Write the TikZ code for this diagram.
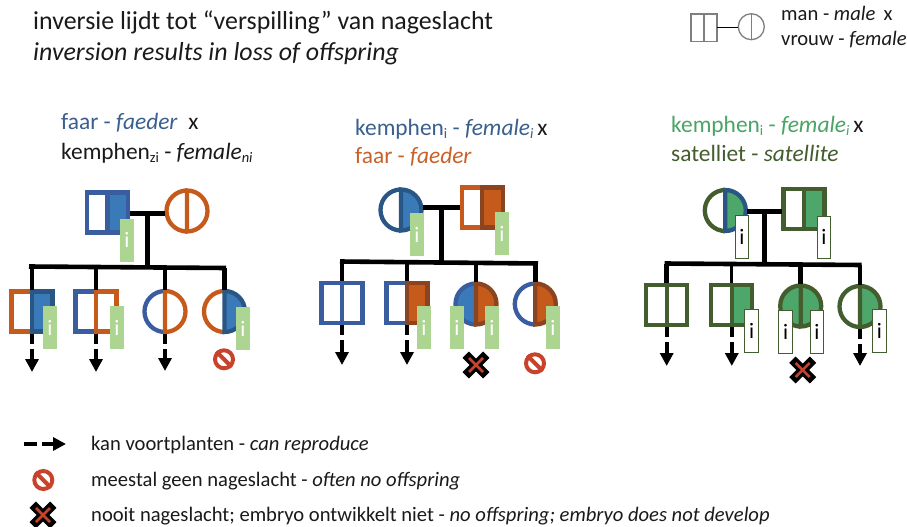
\documentclass[tikz,border=0pt]{standalone}
\usepackage{fontspec}
\setmainfont{Carlito}
\usetikzlibrary{arrows.meta}
\definecolor{blu}{HTML}{3A5DA0}
\definecolor{org}{HTML}{C55A1B}
\definecolor{dblu}{HTML}{2A5685}
\definecolor{fblu}{HTML}{3A7AB8}
\definecolor{brn}{HTML}{8B4420}
\definecolor{dgrn}{HTML}{445D2E}
\definecolor{fgrn}{HTML}{4EA76A}
\definecolor{tgrn}{HTML}{ADD592}
\definecolor{rd}{HTML}{C8432B}
\definecolor{tblu}{HTML}{3A6090}
\definecolor{torg}{HTML}{C8622A}
\definecolor{tgr}{HTML}{4AA564}
\definecolor{gry}{HTML}{7F7F7F}
\definecolor{txt}{HTML}{1A1A1A}
\tikzset{
  pedline/.style={line width=4.3pt,line join=miter},
  bar/.style={line width=4.6pt,black,line cap=butt},
  symnode/.style={inner sep=0pt,outer sep=0pt,minimum width=45pt,minimum height=44pt},
  circnode/.style={circle,inner sep=0pt,outer sep=0pt,minimum size=44pt},
  igreen/.style={fill=tgrn,inner sep=0pt,minimum width=14pt,minimum height=43pt,text=white,font=\fontsize{22}{22}\selectfont},
  iwhite/.style={fill=white,draw=dgrn,line width=1pt,inner sep=0pt,minimum width=13.5pt,minimum height=42.5pt,text=black,font=\fontsize{22}{22}\selectfont},
  darr/.style={line width=4pt,black,dash pattern=on 10pt off 5pt on 12pt off 0pt,-{Triangle[width=13pt,length=13pt]}},
  title/.style={anchor=base west,inner sep=0pt,text=txt,font=\fontsize{25.9}{26}\selectfont},
  head/.style={anchor=base west,inner sep=0pt,text=txt,font=\fontsize{23.4}{24}\selectfont},
  small/.style={anchor=base west,inner sep=0pt,text=txt,font=\fontsize{20.6}{21}\selectfont},
  nosym/.style={circle,draw=rd,fill=white,line width=4pt,inner sep=0pt,minimum size=18pt},
}
% name, x, y, left stroke, right stroke, left fill, right fill
\newcommand\pedsq[7]{%
  \node[symnode] (#1) at (#2,#3) {};
  \fill[#6] (#2-20.5,#3-20) rectangle (#2,#3+20);
  \fill[#7] (#2,#3-20) rectangle (#2+20.5,#3+20);
  \draw[pedline,#4] (#2,#3-20) -- (#2-20.5,#3-20) -- (#2-20.5,#3+20) -- (#2,#3+20);
  \draw[pedline,#5] (#2,#3-20) -- (#2+20.5,#3-20) -- (#2+20.5,#3+20) -- (#2,#3+20) -- cycle;
}
\newcommand\pedci[7]{%
  \node[circnode] (#1) at (#2,#3) {};
  \fill[#6] (#2,#3-20.5) arc[start angle=90,end angle=270,radius=20.5pt] -- cycle;
  \fill[#7] (#2,#3-20.5) arc[start angle=90,end angle=-90,radius=20.5pt] -- cycle;
  \draw[pedline,#4] (#2,#3-20.5) arc[start angle=90,end angle=270,radius=20.5pt];
  \draw[pedline,#5] (#2,#3-20.5) arc[start angle=90,end angle=-90,radius=20.5pt] -- cycle;
}
% name, node, end y
\newcommand\pedarrow[3]{%
  \coordinate (#1) at (#2.south |- 0,#3);
  \draw[darr] (#2.south) -- (#1);
}
\newcommand\crossmark[3]{%
  \node[inner sep=0pt,minimum size=27pt] (#1) at (#2,#3) {};
  \draw[line width=9pt,black] (#2-10.3,#3-10.3) -- (#2+10.3,#3+10.3) (#2-10.3,#3+10.3) -- (#2+10.3,#3-10.3);
  \draw[line width=2.5pt,rd] (#2-7,#3-7) -- (#2+7,#3+7) (#2-7,#3+7) -- (#2+7,#3-7);
}
\newcommand\nomark[3]{%
  \node[nosym] (#1) at (#2,#3) {};
  \draw[line width=4pt,rd] (#1.135) -- (#1.-45);
}
\newcommand\subs[1]{\raisebox{-3pt}{\fontsize{14.5}{15}\selectfont #1}}
\begin{document}
\begin{tikzpicture}[x=1pt,y=-1pt]
\useasboundingbox (0,0) rectangle (907,527);
\fill[white] (0,0) rectangle (907,527);

% titles
\node[title] (t1) at (33,30) {inversie lijdt tot “verspilling” van nageslacht};
\node[title] (t2) at (33,60) {\itshape inversion results in loss of offspring};

% sex legend
\node[inner sep=0pt,outer sep=0pt,minimum width=26pt,minimum height=27.5pt,draw=gry,line width=1.3pt] (ks) at (704,27.7) {};
\draw[gry,line width=1.3pt] (ks.north) -- (ks.south);
\node[circle,inner sep=0pt,outer sep=0pt,minimum size=26pt,draw=gry,line width=1.3pt] (kc) at (751.3,26.7) {};
\draw[gry,line width=1.3pt] (kc.north) -- (kc.south);
\draw[black,line width=1.5pt] (ks.east) -- (ks.east -| kc.west);
\node[small] (k1) at (781,21) {man - \textit{male}\, x};
\node[small] (k2) at (781,46) {vrouw - \textit{female}};

% panel headings
\node[head,text=tblu] (h1) at (61,129) {faar - \textit{faeder}\ \ \textcolor{txt}{x}};
\node[head] (h2) at (61,159) {kemphen\subs{zi} - \textit{female\subs{ni}}};
\node[head,text=tblu] (h3) at (355,135) {kemphen\subs{i} - \textit{female\subs{i}}\,\textcolor{txt}{x}};
\node[head,text=torg] (h4) at (355,163) {faar - \textit{faeder}};
\node[head,text=tgr] (h5) at (671,132) {kemphen\subs{i} - \textit{female\subs{i}}\,\textcolor{txt}{x}};
\node[head,text=dgrn] (h6) at (671,161) {satelliet - \textit{satellite}};

% ---------- panel 1
\pedsq{af}{107.5}{212.5}{blu}{blu}{white}{fblu}
\pedci{am}{187}{211}{org}{org}{white}{white}
\coordinate (aj) at (147.3,213.3);
\coordinate (al) at (29,266.5);
\coordinate (ar) at (226,268);
\draw[bar] (af.east |- aj) -- (am.west |- aj);
\draw[bar] (aj) -- (147.3,267);
\draw[bar] (al) -- (ar);
\pedsq{aa}{32}{311.5}{org}{dblu}{white}{fblu}
\pedsq{ab}{96}{311.5}{blu}{org}{white}{white}
\pedci{ac}{165}{311.5}{blu}{org}{white}{white}
\pedci{ad}{224.5}{311.5}{org}{dblu}{white}{fblu}
\draw[bar] (aa.north |- al) -- (aa.north);
\draw[bar] (ab.north |- al) -- (ab.north);
\draw[bar] (ac.north |- al) -- (ac.north);
\draw[bar] (ad.north |- ar) -- (ad.north);
\pedarrow{aae}{aa}{372}
\pedarrow{abe}{ab}{372}
\pedarrow{ace}{ac}{371}
\node[igreen] (ai0) at (127,240.3) {i};
\node[igreen] (ai1) at (50,327.5) {i};
\node[igreen] (ai2) at (117,327.5) {i};
\node[igreen] (ai3) at (243,328.5) {i};
\nomark{ano}{224}{359.3}

% ---------- panel 2
\pedci{bf}{401}{210}{dblu}{dblu}{white}{fblu}
\pedsq{bm}{482.3}{207.5}{org}{brn}{white}{org}
\coordinate (bj) at (441.3,207.3);
\coordinate (bl) at (340,261.5);
\coordinate (br) at (538,263.5);
\draw[bar] (bf.east |- bj) -- (bm.west |- bj);
\draw[bar] (bj) -- (441.3,262.5);
\draw[bar] (bl) -- (br);
\pedsq{ba}{342}{303}{blu}{blu}{white}{white}
\pedsq{bb}{407}{303}{blu}{brn}{white}{org}
\pedci{bc}{476}{304}{blu}{brn}{fblu}{org}
\pedci{bd}{535.3}{304}{blu}{brn}{white}{org}
\draw[bar] (ba.north |- bl) -- (ba.north);
\draw[bar] (bb.north |- bl) -- (bb.north);
\draw[bar] (bc.north |- br) -- (bc.north);
\draw[bar] (bd.north |- br) -- (bd.north);
\pedarrow{bae}{ba}{365}
\pedarrow{bbe}{bb}{365}
\node[igreen] (bi0) at (417,234.5) {i};
\node[igreen] (bi1) at (502,233.5) {i};
\node[igreen] (bi2) at (424,327.5) {i};
\node[igreen] (bi3) at (457,327.5) {i};
\node[igreen] (bi4) at (492,327.5) {i};
\node[igreen] (bi5) at (553,327.5) {i};
\crossmark{bx}{476}{365}
\nomark{bno}{535}{363.3}

% ---------- panel 3
\pedci{cf}{725.3}{210.5}{dgrn}{dblu}{white}{fgrn}
\pedsq{cm}{804}{209.3}{dgrn}{dgrn}{white}{fgrn}
\coordinate (cj) at (764.3,211.3);
\coordinate (cl) at (664.7,263.5);
\coordinate (cr) at (861.7,265);
\draw[bar] (cf.east |- cj) -- (cm.west |- cj);
\draw[bar] (cj) -- (764.3,264.5);
\draw[bar] (cl) -- (cr);
\pedsq{ca}{666.7}{305}{dgrn}{dgrn}{white}{white}
\pedsq{cb}{731.8}{305}{dgrn}{dgrn}{white}{fgrn}
\pedci{cc}{800.7}{306}{dgrn}{dgrn}{fgrn}{fgrn}
\pedci{cd}{860}{306.5}{dgrn}{dgrn}{white}{fgrn}
\draw[bar] (ca.north |- cl) -- (ca.north);
\draw[bar,line width=3pt] (cb.north |- cl) -- (cb.north);
\draw[bar] (cc.north |- cr) -- (cc.north);
\draw[bar] (cd.north |- cr) -- (cd.north);
\pedarrow{cae}{ca}{366}
\pedarrow{cbe}{cb}{366}
\pedarrow{cde}{cd}{366}
\node[iwhite] (ci0) at (742,237) {i};
\node[iwhite] (ci1) at (824,237.3) {i};
\node[iwhite] (ci2) at (751.7,331) {i};
\node[iwhite] (ci3) at (785.7,332) {i};
\node[iwhite] (ci4) at (817,332) {i};
\node[iwhite] (ci5) at (879.5,331.2) {i};
\crossmark{cx}{802.7}{370}

% ---------- bottom legend
\coordinate (la) at (24,444);
\coordinate (lb) at (66,444);
\draw[line width=4pt,black,dash pattern=on 13pt off 5pt on 12pt off 0pt,-{Triangle[width=13pt,length=13pt]}] (la) -- (lb);
\nomark{lno}{43.3}{480}
\crossmark{lx}{43}{515}
\node[small] (l1) at (91,450) {kan voortplanten - \textit{can reproduce}};
\node[small] (l2) at (91,486) {meestal geen nageslacht - \textit{often no offspring}};
\node[small] (l3) at (91,521) {nooit nageslacht; embryo ontwikkelt niet - \textit{no offspring; embryo does not develop}};
\end{tikzpicture}
\end{document}
